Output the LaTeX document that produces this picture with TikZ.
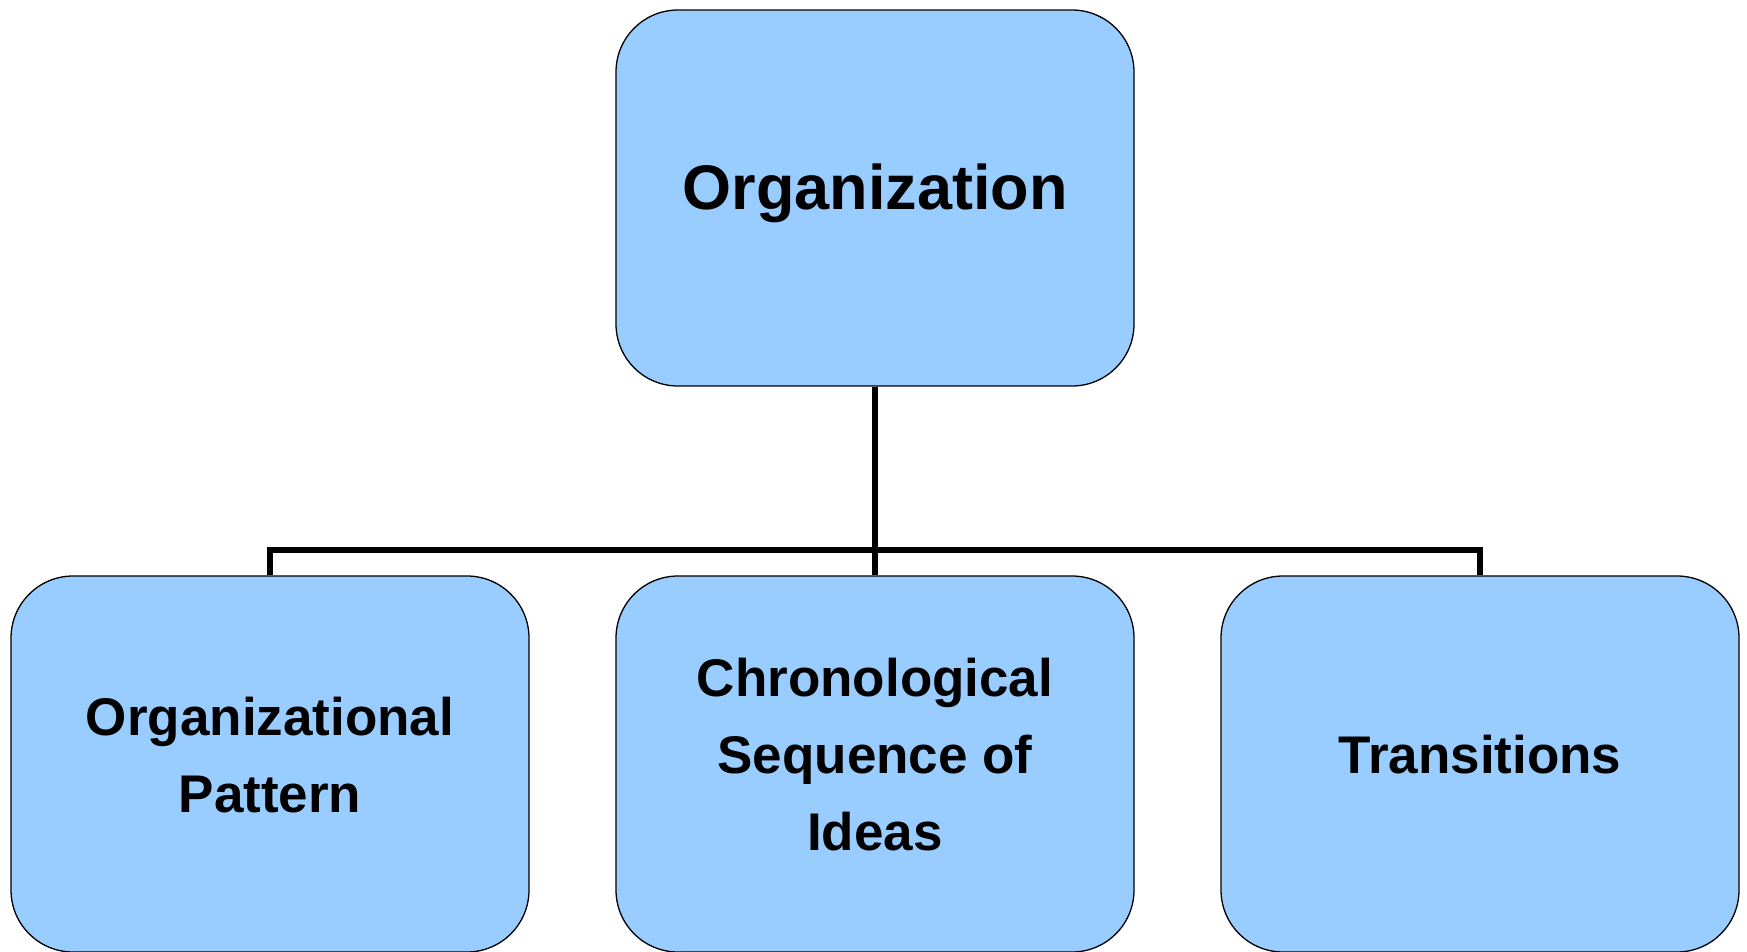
\documentclass[tikz,border=0pt]{standalone}
\usepackage{fontspec}
\setmainfont{Liberation Sans}
\begin{document}
\begin{tikzpicture}[x=1pt,y=-1pt,
  box/.style={draw=black,line width=1.3pt,fill=boxblue,rounded corners=62pt,
    minimum width=518pt,minimum height=376pt,inner sep=0pt},
  title/.style={font=\bfseries\fontsize{63}{72}\selectfont,align=center},
  label/.style={font=\bfseries\fontsize{53}{77}\selectfont,align=center},
  link/.style={draw=black,line width=6pt,line join=miter}]
\definecolor{boxblue}{HTML}{99CCFF}
\useasboundingbox (0,0) rectangle (1747,951);

% boxes
\node[box] (top) at (875,198) {};
\node[box] (left) at (270,764) {};
\node[box] (mid) at (875,764) {};
\node[box] (right) at (1480,764) {};

% texts
\node[title] (ttop) at (875,193) {Organization};
\node[label] (tleft) at (270,755) {Organizational\\Pattern};
\node[label] (tmid) at (875,755) {Chronological\\Sequence of\\Ideas};
\node[label] (tright) at (1480,755) {Transitions};

% connectors
\coordinate (hub) at (875,550);
\draw[link] (top.south) -- (mid.north);
\draw[link] (left.north) -- (left.north |- hub) -- (right.north |- hub) -- (right.north);
\end{tikzpicture}
\end{document}
